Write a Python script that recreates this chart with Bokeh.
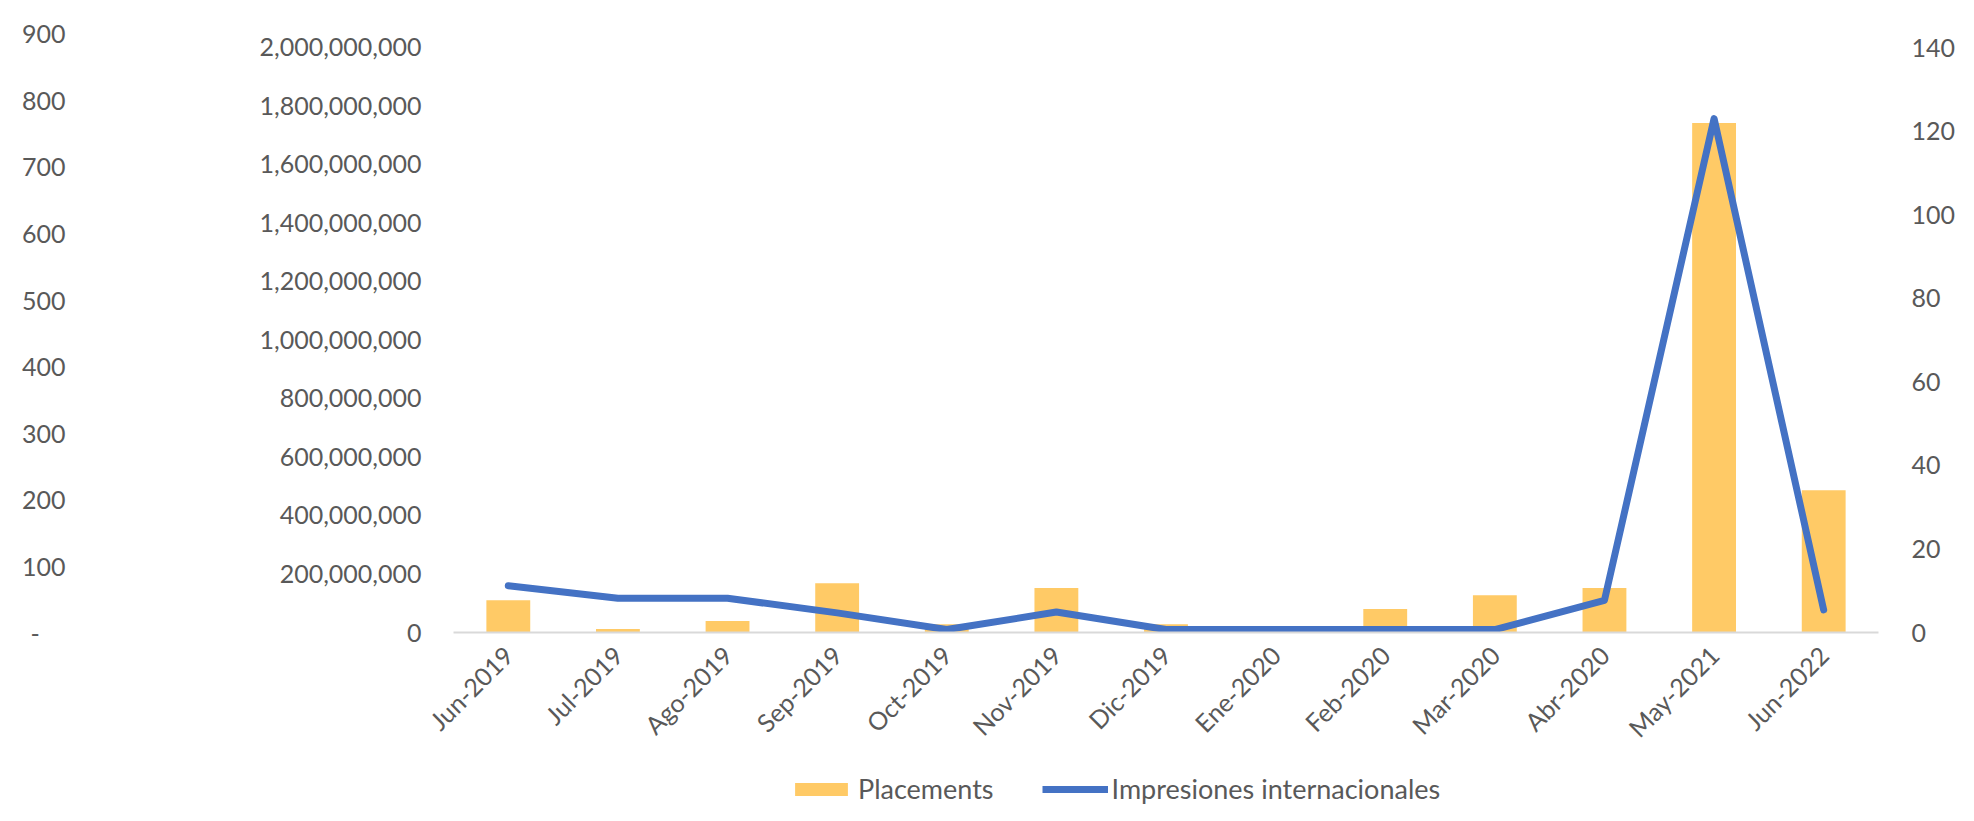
import math
from bokeh.plotting import figure
from bokeh.layouts import column
from bokeh.models import (FactorRange, Range1d, LinearAxis, SingleIntervalTicker,
                          NumeralTickFormatter, Legend, LegendItem, ColumnDataSource)
from bokeh.embed import file_html
from bokeh.resources import INLINE

# ---- data ----
months = ["Jun-2019", "Jul-2019", "Ago-2019", "Sep-2019", "Oct-2019", "Nov-2019",
          "Dic-2019", "Ene-2020", "Feb-2020", "Mar-2020", "Abr-2020", "May-2021", "Jun-2022"]
placements = [110e6, 12e6, 39e6, 168e6, 28e6, 152e6, 28e6, 0, 80e6, 127e6, 152e6, 1742e6, 486e6]
impresiones = [11.2, 8.2, 8.2, 4.7, 0.7, 4.9, 0.7, 0.7, 0.7, 0.7, 7.7, 123, 5.4]

left_ticks_interval = 200e6
right_ticks_interval = 20
third_ticks_interval = 100

FONT = "Lato"
GRAY = "#595959"
NBSP = "\u00a0"
BAR_COLOR = "#FFCA66"
LINE_COLOR = "#4472C4"

source = ColumnDataSource(dict(months=months, placements=placements, impresiones=impresiones))

xr = FactorRange(factors=months, range_padding=0)
p = figure(x_range=xr, y_range=Range1d(0, 2.051e9),
           width=1958, height=773, output_backend="svg", toolbar_location=None,
           min_border_left=453, min_border_right=66, min_border_top=32, min_border_bottom=141)
p.extra_y_ranges = {"right": Range1d(0, 143.6), "third": Range1d(0, 901)}

p.outline_line_color = None
p.xgrid.visible = False
p.ygrid.visible = False
p.background_fill_color = "white"
p.border_fill_color = "white"

bars = p.vbar(x="months", top="placements", width=0.4, source=source,
              fill_color=BAR_COLOR, line_color=None)
line = p.line(x="months", y="impresiones", source=source, y_range_name="right",
              line_color=LINE_COLOR, line_width=7, line_cap="round", line_join="round")

def style_axis(ax):
    ax.major_tick_line_color = None
    ax.minor_tick_line_color = None
    ax.major_label_text_font = FONT
    ax.major_label_text_font_size = "25px"
    ax.major_label_text_color = GRAY

# x axis
xa = p.xaxis[0]
style_axis(xa)
xa.axis_line_color = "#D9D9D9"
xa.axis_line_width = 2
xa.major_label_orientation = math.pi / 4
xa.major_label_standoff = 12

# main left axis (Placements)
ya = p.yaxis[0]
style_axis(ya)
ya.axis_line_color = None
ya.ticker = SingleIntervalTicker(interval=left_ticks_interval, num_minor_ticks=0)
ya.formatter = NumeralTickFormatter(format="0,0")
ya.major_label_standoff = 26

# right axis (Impresiones)
ra = LinearAxis(y_range_name="right",
                ticker=SingleIntervalTicker(interval=right_ticks_interval, num_minor_ticks=0))
style_axis(ra)
ra.axis_line_color = None
ra.major_label_standoff = 27
p.add_layout(ra, "right")

# far-left stray axis 0..900
ta = LinearAxis(y_range_name="third",
                ticker=SingleIntervalTicker(interval=third_ticks_interval, num_minor_ticks=0))
style_axis(ta)
ta.axis_line_color = None
ta.major_label_overrides = {0: "-" + NBSP * 4}
ta.major_label_standoff = 185
p.add_layout(ta, "left")

# ---- legend strip below the chart (same series, view range far away so only the legend shows) ----
lp = figure(width=1958, height=32, output_backend="svg", toolbar_location=None,
            x_axis_type=None, y_axis_type=None, x_range=xr, y_range=Range1d(1e12, 1e12 + 1),
            min_border_left=453, min_border_right=66, min_border_top=0, min_border_bottom=0)
lp.outline_line_color = None
lp.xgrid.visible = False
lp.ygrid.visible = False
lbar = lp.vbar(x="months", top="placements", width=0.4, source=source,
               fill_color=BAR_COLOR, line_color=None)
lline = lp.line(x="months", y="impresiones", source=source,
                line_color=LINE_COLOR, line_width=7)

legend = Legend(items=[LegendItem(label="Placements", renderers=[lbar]),
                       LegendItem(label="Impresiones internacionales", renderers=[lline])],
                orientation="horizontal", location=(335, 0),
                glyph_width=66, glyph_height=16, label_standoff=4, spacing=48,
                padding=0, margin=0, border_line_alpha=0, background_fill_alpha=0,
                label_text_font=FONT, label_text_font_size="27px", label_text_color=GRAY)
lp.add_layout(legend, "center")

layout = column(p, lp, spacing=0)

open("out.html", "w").write(file_html(layout, INLINE))
